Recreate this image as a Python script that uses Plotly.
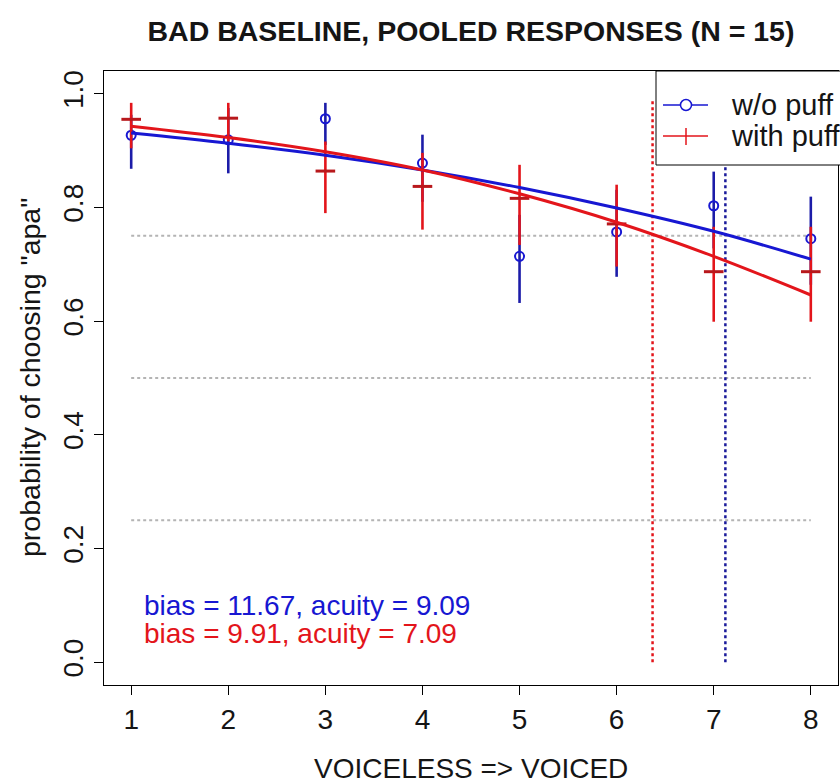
import plotly.graph_objects as go

# ---------------- data ----------------
steps = [1, 2, 3, 4, 5, 6, 7, 8]

wo_puff_p = [0.927, 0.919, 0.956, 0.878, 0.714, 0.757, 0.803, 0.745]
wo_puff_hi = [0.963, 0.975, 0.984, 0.928, 0.787, 0.831, 0.863, 0.819]
wo_puff_lo = [0.868, 0.860, 0.910, 0.810, 0.632, 0.678, 0.728, 0.664]
wo_puff_fit = [0.931, 0.913, 0.892, 0.866, 0.835, 0.799, 0.758, 0.709]

with_puff_p = [0.955, 0.957, 0.864, 0.837, 0.816, 0.771, 0.687, 0.687]
with_puff_hi = [0.984, 0.984, 0.916, 0.896, 0.875, 0.840, 0.766, 0.766]
with_puff_lo = [0.904, 0.916, 0.790, 0.761, 0.734, 0.696, 0.599, 0.599]
with_puff_fit = [0.943, 0.923, 0.898, 0.866, 0.824, 0.774, 0.714, 0.646]

wo_puff_stats = (11.67, 9.09)     # bias, acuity
with_puff_stats = (9.91, 7.09)
wo_puff_boundary = 7.12
with_puff_boundary = 6.37
boundary_top = 0.99
ref_levels = [0.25, 0.5, 0.75]

x_ticks = [1, 2, 3, 4, 5, 6, 7, 8]
y_ticks = [0.0, 0.2, 0.4, 0.6, 0.8, 1.0]
y_tick_text = ["0.0", "0.2", "0.4", "0.6", "0.8", "1.0"]

title_text = "BAD BASELINE, POOLED RESPONSES (N = 15)"
x_title = "VOICELESS => VOICED"
y_title = 'probability of choosing "apa"'
legend_labels = ["w/o puff", "with puff"]

BLUE = "#1717d2"
RED = "#e3151b"
FONT = "Liberation Sans, Arial, sans-serif"
TXT = "#151515"

fig = go.Figure()

# reference dotted gray lines
for lv in ref_levels:
    fig.add_trace(go.Scatter(x=[steps[0], steps[-1]], y=[lv, lv], mode="lines",
                             line=dict(color="#b4b4b4", width=2, dash="dot"),
                             showlegend=False, hoverinfo="skip"))

# vertical boundaries
fig.add_trace(go.Scatter(x=[with_puff_boundary, with_puff_boundary], y=[0, boundary_top],
                         mode="lines", line=dict(color=RED, width=2.5, dash="dot"),
                         showlegend=False, hoverinfo="skip"))
fig.add_trace(go.Scatter(x=[wo_puff_boundary, wo_puff_boundary], y=[0, boundary_top],
                         mode="lines", line=dict(color="#1a1a9a", width=2.5, dash="dot"),
                         showlegend=False, hoverinfo="skip"))

def err(p, hi, lo):
    return ([h - v for h, v in zip(hi, p)], [v - l for v, l in zip(p, lo)])

up, dn = err(wo_puff_p, wo_puff_hi, wo_puff_lo)
fig.add_trace(go.Scatter(x=steps, y=wo_puff_p, mode="markers",
                         marker=dict(symbol="circle-open", size=9, color=BLUE,
                                     line=dict(width=2, color=BLUE)),
                         error_y=dict(type="data", array=up, arrayminus=dn,
                                      color="#1c1ca8", thickness=2.6, width=0),
                         showlegend=False))
up, dn = err(with_puff_p, with_puff_hi, with_puff_lo)
fig.add_trace(go.Scatter(x=steps, y=with_puff_p, mode="markers",
                         marker=dict(symbol="line-ew", size=14, color=RED,
                                     line=dict(width=3, color="#b8181c")),
                         error_y=dict(type="data", array=up, arrayminus=dn,
                                      color=RED, thickness=2.6, width=0),
                         showlegend=False))

# fitted curves
fig.add_trace(go.Scatter(x=steps, y=wo_puff_fit, mode="lines", line_shape="spline",
                         line=dict(color=BLUE, width=3), showlegend=False))
fig.add_trace(go.Scatter(x=steps, y=with_puff_fit, mode="lines", line_shape="spline",
                         line=dict(color=RED, width=3), showlegend=False))

# ---------- layout ----------
L, R, T, B = 104, 2, 71, 99
W, H = 840, 784
pw, ph = W - L - R, H - T - B

def dx(px):
    return (px - L) / pw

def dy(py):
    return (H - B - py) / ph

shapes = []
annotations = []

# legend box (manual, partly outside the canvas like the original)
shapes.append(dict(type="rect", xref="paper", yref="paper", x0=dx(656), x1=dx(880),
                   y0=dy(165), y1=dy(71), line=dict(color="black", width=1),
                   fillcolor="white", layer="above"))
rows = [105, 136]
cols = [BLUE, RED]
for i, (ry, c) in enumerate(zip(rows, cols)):
    shapes.append(dict(type="line", xref="paper", yref="paper", x0=dx(663), x1=dx(708),
                       y0=dy(ry), y1=dy(ry), line=dict(color=c, width=1.5), layer="above"))
    annotations.append(dict(xref="paper", yref="paper", x=dx(729), y=dy(ry),
                            text=legend_labels[i], showarrow=False, xanchor="left",
                            yanchor="middle", font=dict(family=FONT, size=29, color=TXT)))
shapes.append(dict(type="circle", xref="paper", yref="paper", x0=dx(680.5), x1=dx(691.5),
                   y0=dy(110.5), y1=dy(99.5), line=dict(color=BLUE, width=1.5), layer="above",
                   fillcolor="white"))
shapes.append(dict(type="line", xref="paper", yref="paper", x0=dx(686), x1=dx(686),
                   y0=dy(128), y1=dy(145), line=dict(color=RED, width=1.5), layer="above"))

# stats text
for stats, c, yv in [(wo_puff_stats, BLUE, 0.100), (with_puff_stats, RED, 0.051)]:
    annotations.append(dict(xref="x", yref="y", x=1.11, y=yv,
                            text=f"bias = {stats[0]:.2f}, acuity = {stats[1]:.2f}",
                            showarrow=False, xanchor="left", yanchor="middle",
                            font=dict(family=FONT, size=28, color=c)))

# axis titles
annotations.append(dict(xref="paper", yref="paper", x=0.5, y=dy(768), text=x_title,
                        showarrow=False, xanchor="center", yanchor="middle",
                        font=dict(family=FONT, size=28, color=TXT)))
annotations.append(dict(xref="paper", yref="paper", x=dx(30), y=0.5, text=y_title,
                        textangle=-90, showarrow=False, xanchor="center", yanchor="middle",
                        font=dict(family=FONT, size=28.5, color=TXT)))

fig.update_layout(
    width=W, height=H,
    margin=dict(l=L, r=R, t=T, b=B, autoexpand=False),
    paper_bgcolor="white", plot_bgcolor="white",
    title=dict(text=f"<b>{title_text}</b>", x=0.5, xref="paper", y=1 - 31 / H,
               yref="container", xanchor="center", yanchor="middle",
               font=dict(family=FONT, size=28.5, color=TXT)),
    shapes=shapes, annotations=annotations,
    showlegend=False,
)
fig.update_xaxes(range=[0.72, 8.28], tickvals=x_ticks, ticks="outside", ticklen=9,
                 tickwidth=1, tickcolor="black", showline=True, mirror=True,
                 linecolor="black", linewidth=1, showgrid=False, zeroline=False,
                 tickfont=dict(family=FONT, size=28, color=TXT))
fig.update_yaxes(range=[-0.04, 1.04], tickvals=y_ticks, ticktext=y_tick_text,
                 tickangle=-90, ticks="outside", ticklen=9,
                 tickwidth=1, tickcolor="black", showline=True, mirror=True,
                 linecolor="black", linewidth=1, showgrid=False, zeroline=False,
                 tickfont=dict(family=FONT, size=28, color=TXT))

fig.write_html("out.html")
